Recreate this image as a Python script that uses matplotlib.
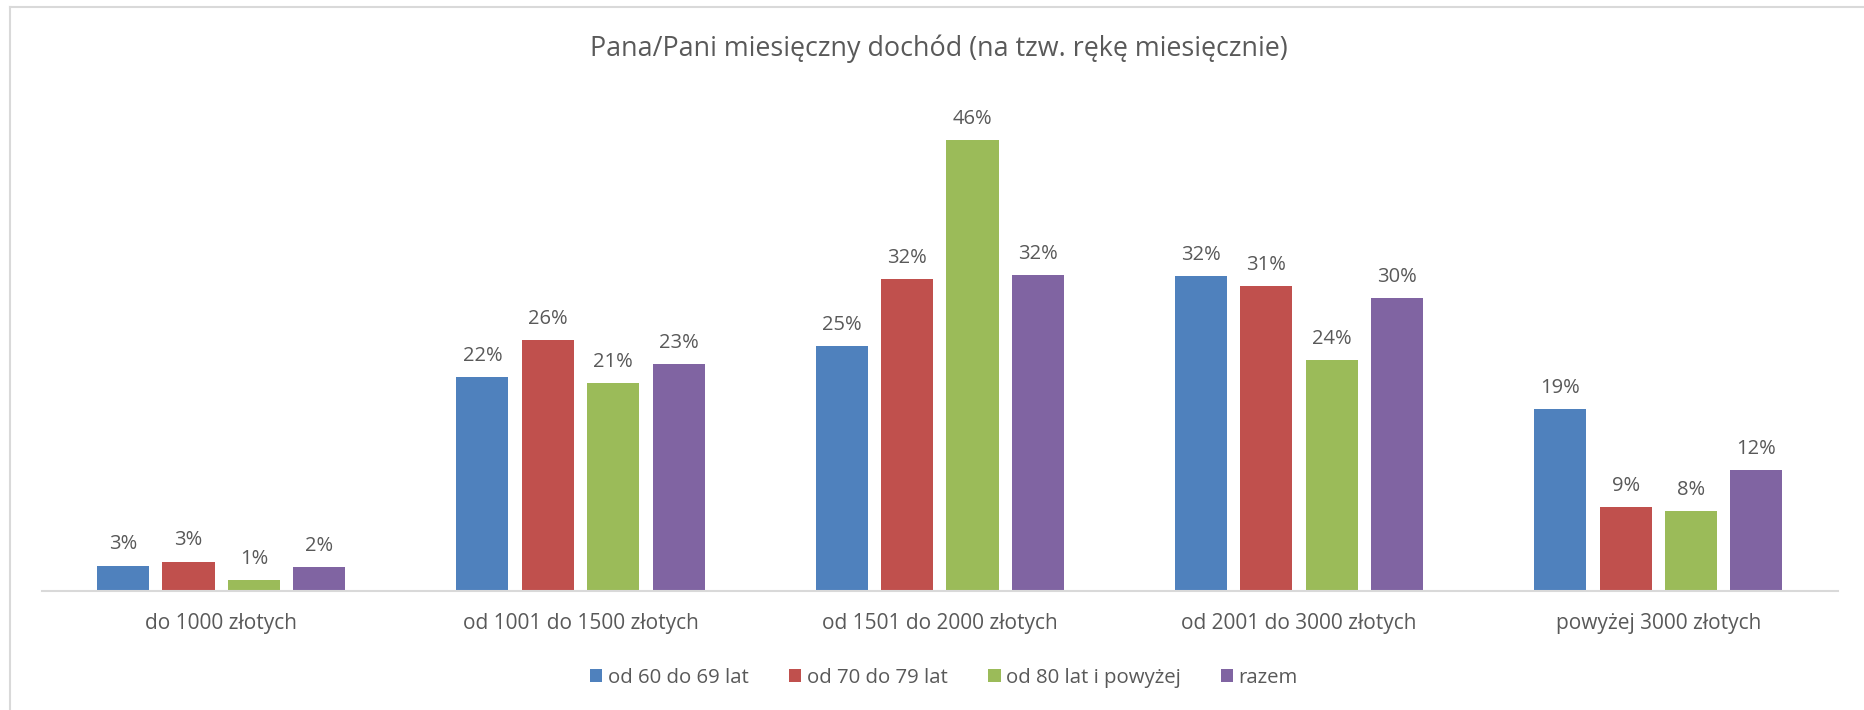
import matplotlib
matplotlib.use("Agg")
import matplotlib.pyplot as plt
import numpy as np
from matplotlib.lines import Line2D

plt.rcParams['font.family'] = ['Open Sans', 'DejaVu Sans']

title = "Pana/Pani miesięczny dochód (na tzw. rękę miesięcznie)"
categories = ["do 1000 złotych", "od 1001 do 1500 złotych", "od 1501 do 2000 złotych",
              "od 2001 do 3000 złotych", "powyżej 3000 złotych"]
series_names = ["od 60 do 69 lat", "od 70 do 79 lat", "od 80 lat i powyżej", "razem"]
s_60_69 = [2.6, 21.8, 25.0, 32.1, 18.6]
s_70_79 = [3.0, 25.6, 31.8, 31.1, 8.6]
s_80_plus = [1.1, 21.2, 46.0, 23.6, 8.2]
s_razem = [2.4, 23.2, 32.2, 29.9, 12.3]
series = [s_60_69, s_70_79, s_80_plus, s_razem]
colors = ["#4F81BD", "#C0504D", "#9BBB59", "#8064A2"]

text_color = "#595959"
W, H = 1865, 710
fig = plt.figure(figsize=(W / 100, H / 100), dpi=100)
ax = fig.add_axes([41.6 / W, 1 - 591 / H, (1838 - 41.6) / W, 490 / H])

x = np.arange(len(categories))
step = 0.182
bw = 0.145
for i, (vals, c, name) in enumerate(zip(series, colors, series_names)):
    pos = x + (i - 1.5) * step
    ax.bar(pos, vals, width=bw, color=c, label=name, zorder=2)
    for p, v in zip(pos, vals):
        ax.annotate(f"{v:.0f}%", (p, v), xytext=(0, 8), textcoords="offset points",
                    ha="center", va="bottom", fontsize=14.5, color=text_color)

ax.set_xlim(-0.5, len(categories) - 0.5)
ax.set_ylim(0, 50)
ax.set_yticks([])
ax.set_xticks(x)
ax.set_xticklabels(categories, fontsize=15, color=text_color)
ax.tick_params(axis='x', length=0, pad=16)
for s in ["top", "right", "left"]:
    ax.spines[s].set_visible(False)
ax.spines["bottom"].set_color("#D9D9D9")
ax.spines["bottom"].set_linewidth(1.5)
ax.spines["bottom"].set_zorder(3)

fig.text(939 / W, 1 - 49 / H, title, ha="center", va="center", fontsize=19.4, color=text_color)

leg = fig.legend(loc="center", bbox_to_anchor=(944 / W, 1 - 678 / H), ncol=4, frameon=False,
                 fontsize=14.7, handlelength=0.6, handleheight=0.6, handletextpad=0.25,
                 columnspacing=2.0, labelcolor=text_color)

# chart area border (top and left visible)
fig.add_artist(Line2D([10 / W, 10 / W], [0, 1 - 7 / H], color="#D9D9D9", lw=1.5))
fig.add_artist(Line2D([10 / W, 1], [1 - 7 / H, 1 - 7 / H], color="#D9D9D9", lw=1.5))

fig.savefig("out.png", dpi=100, facecolor="white")
